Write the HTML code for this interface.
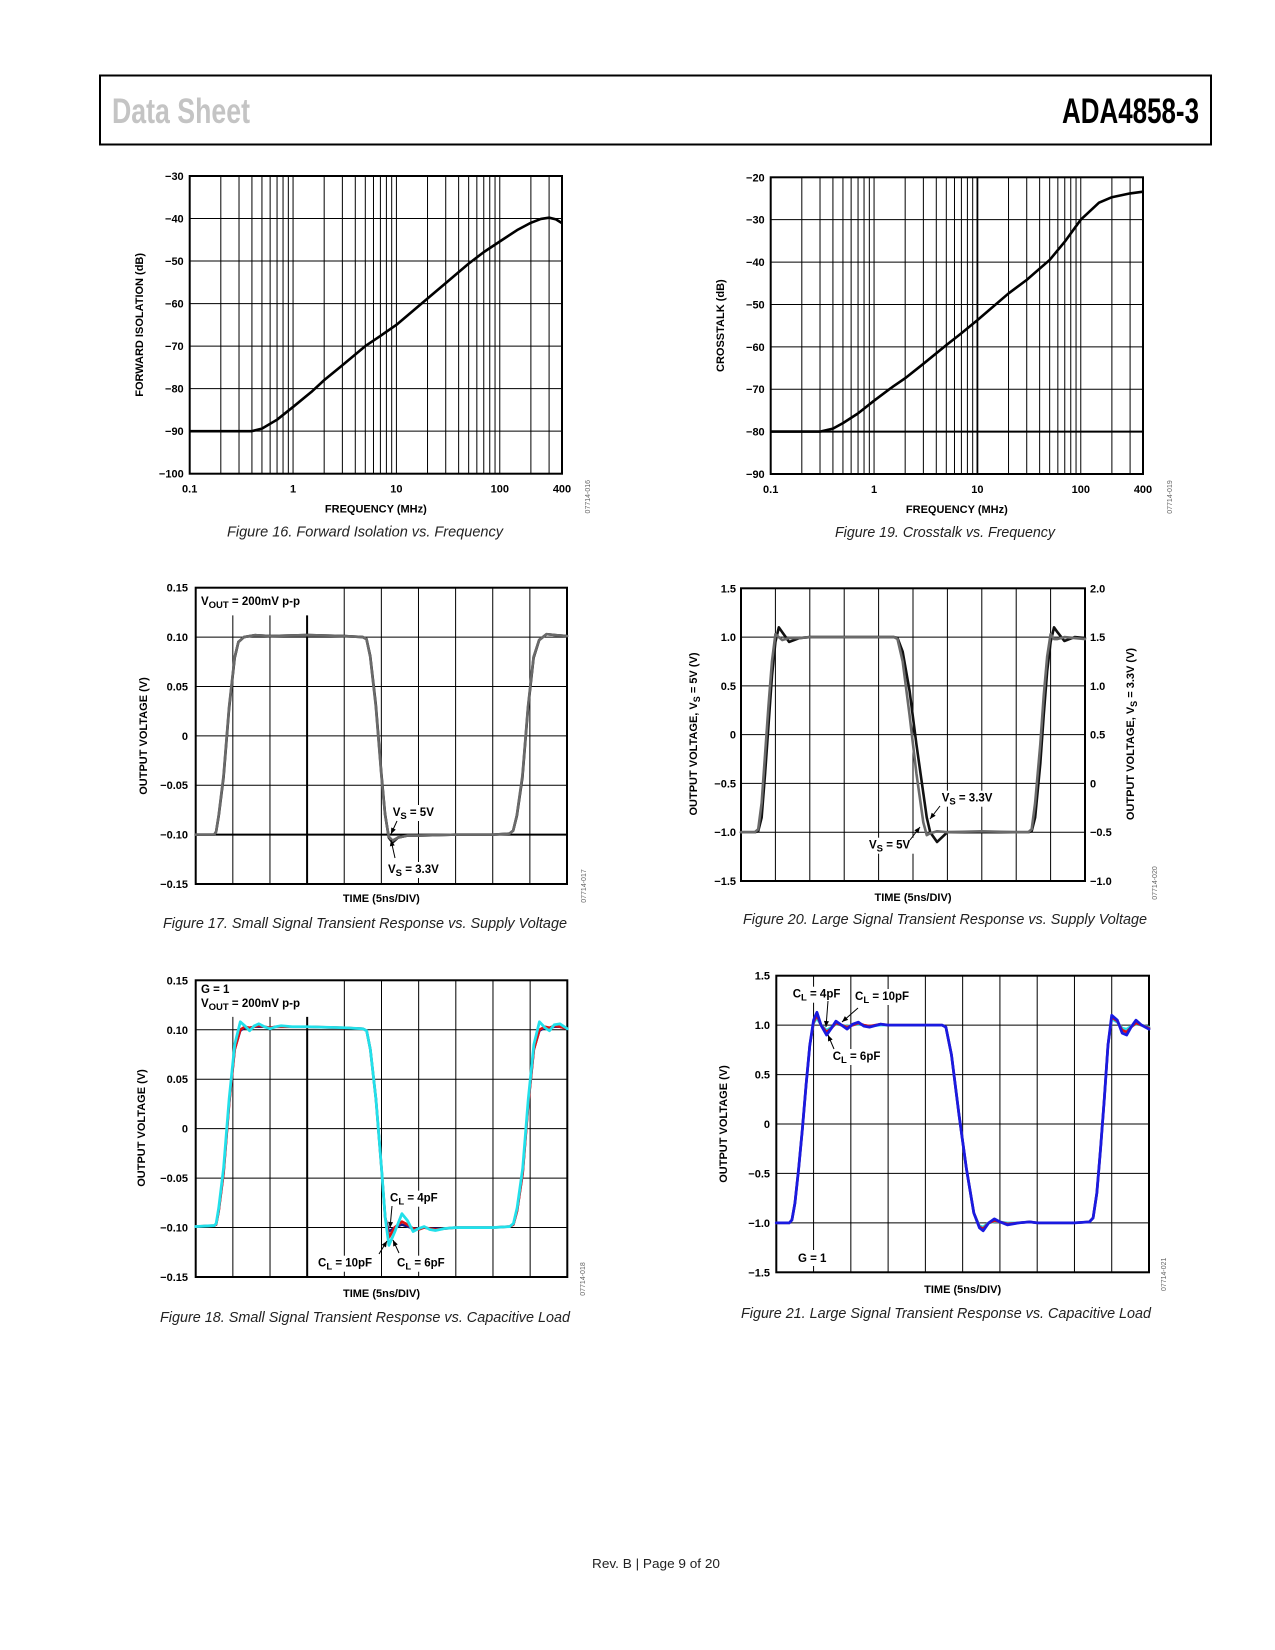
<!DOCTYPE html>
<html><head><meta charset="utf-8"><title>ADA4858-3 Data Sheet page 9</title>
<style>
html,body{margin:0;padding:0;background:#fff;}
svg{display:block;}
text{font-family:"Liberation Sans",Arial,sans-serif;}
</style></head>
<body>
<svg id="page" width="1275" height="1650" viewBox="0 0 1275 1650" xmlns="http://www.w3.org/2000/svg">
<rect x="100" y="75.5" width="1111" height="69" fill="none" stroke="#000" stroke-width="2"/>
<text x="112" y="123" font-family="'Liberation Sans Narrow','Liberation Sans',sans-serif" font-weight="bold" font-size="35" fill="#c4c4c4" textLength="138" lengthAdjust="spacingAndGlyphs">Data Sheet</text>
<text x="1062" y="123" font-family="'Liberation Sans Narrow','Liberation Sans',sans-serif" font-weight="bold" font-size="35" fill="#000" textLength="137" lengthAdjust="spacingAndGlyphs">ADA4858-3</text>
<text x="656" y="1568" text-anchor="middle" font-size="13" fill="#222" textLength="128" lengthAdjust="spacingAndGlyphs">Rev. B | Page 9 of 20</text>
</svg>
<script>
// ---------- Figure 16 data ----------
const fig16Freq = [0.1,0.2,0.3,0.4,0.5,0.7,1,1.5,2,3,5,7,10,20,30,50,70,100,150,200,250,300,350,400];
const fig16Iso  = [-90,-90,-90,-90,-89.4,-87.3,-84.3,-80.8,-78,-74.5,-70,-67.6,-65,-58.8,-55.2,-50.6,-47.9,-45.4,-42.6,-41,-40.1,-39.8,-40.2,-41.1];
const fig16YTicks = [-30,-40,-50,-60,-70,-80,-90,-100];
const fig16XTicks = [0.1,1,10,100,400];
// ---------- Figure 19 data ----------
const fig19Freq = [0.1,0.2,0.3,0.4,0.5,0.7,1,1.5,2,3,5,7,10,20,30,50,70,100,150,200,300,400];
const fig19Xtalk= [-80,-80,-80,-79.3,-78,-75.7,-72.7,-69.5,-67.4,-64,-59.6,-56.8,-53.7,-47.4,-44.2,-39.5,-35.2,-30,-26,-24.7,-23.8,-23.4];
const fig19YTicks = [-20,-30,-40,-50,-60,-70,-80,-90];
const fig19XTicks = [0.1,1,10,100,400];
// ---------- Figure 17 data ----------
const fig17Time = [0,0.5,0.55,0.62,0.75,0.9,1.05,1.15,1.3,1.6,2,3,4,4.5,4.6,4.7,4.85,5.0,5.1,5.2,5.3,5.45,5.7,6,7,8,8.45,8.55,8.65,8.8,8.95,9.1,9.25,9.45,9.7,10];
const fig17Vs33 = [-0.1,-0.1,-0.097,-0.081,-0.042,0.028,0.079,0.095,0.1,0.102,0.101,0.102,0.101,0.1,0.098,0.081,0.032,-0.038,-0.079,-0.103,-0.108,-0.103,-0.101,-0.101,-0.1,-0.1,-0.099,-0.096,-0.081,-0.042,0.028,0.079,0.097,0.103,0.102,0.101];
const fig17Vs5  = [-0.1,-0.1,-0.097,-0.08,-0.04,0.03,0.08,0.095,0.1,0.102,0.101,0.102,0.101,0.1,0.098,0.08,0.03,-0.04,-0.08,-0.102,-0.106,-0.103,-0.101,-0.101,-0.1,-0.1,-0.099,-0.096,-0.08,-0.04,0.03,0.08,0.097,0.103,0.102,0.101];
const fig17YTicks = [0.15,0.10,0.05,0,-0.05,-0.10,-0.15];
const fig17YLabels = ["0.15","0.10","0.05","0","\u22120.05","\u22120.10","\u22120.15"];
// ---------- Figure 20 data ----------
const fig20Time = [0,0.4,0.5,0.6,0.7,0.8,0.9,1.0,1.1,1.2,1.4,1.7,2,3,4,4.45,4.55,4.7,4.9,5.1,5.3,5.4,5.5,5.7,6,7,8,8.35,8.45,8.55,8.7,8.8,8.9,9.0,9.1,9.2,9.4,9.7,10];
const fig20Vs5  = [-1,-1,-0.97,-0.7,-0.2,0.3,0.75,1.03,1.0,0.97,0.99,0.99,1.0,1.0,1.0,1.0,0.98,0.75,0.2,-0.4,-0.9,-1.03,-1.01,-0.99,-1.0,-0.99,-1.0,-1.0,-0.97,-0.7,-0.1,0.4,0.8,1.03,0.98,0.98,1.0,0.99,0.98];
const fig20Vs33 = [-1,-1,-0.99,-0.85,-0.4,0.1,0.6,0.95,1.1,1.05,0.95,0.99,1.0,1.0,1.0,1.0,0.99,0.85,0.45,-0.1,-0.6,-0.85,-1.0,-1.1,-1.0,-1.0,-1.0,-1.0,-0.99,-0.85,-0.3,0.2,0.65,0.95,1.1,1.05,0.96,1.0,0.99];
const fig20YTicks = [1.5,1.0,0.5,0,-0.5,-1.0,-1.5];
const fig20YLabels = ["1.5","1.0","0.5","0","\u22120.5","\u22121.0","\u22121.5"];
const fig20RLabels = ["2.0","1.5","1.0","0.5","0","\u22120.5","\u22121.0"];
// ---------- Figure 18 data ----------
const fig18Time = [0,0.5,0.55,0.62,0.75,0.9,1.05,1.2,1.32,1.45,1.58,1.7,1.85,2.0,2.15,2.3,2.6,3,4,4.5,4.6,4.7,4.85,5.0,5.1,5.2,5.35,5.55,5.7,5.85,6.0,6.15,6.3,6.45,6.7,7,8,8.45,8.55,8.65,8.8,8.95,9.1,9.25,9.4,9.52,9.65,9.8,10];
const fig18Cl4  = [-0.099,-0.098,-0.097,-0.083,-0.045,0.025,0.08,0.099,0.102,0.102,0.103,0.103,0.103,0.102,0.103,0.103,0.103,0.103,0.102,0.101,0.099,0.08,0.03,-0.04,-0.09,-0.104,-0.1,-0.097,-0.099,-0.101,-0.101,-0.1,-0.101,-0.101,-0.101,-0.1,-0.1,-0.099,-0.097,-0.083,-0.045,0.025,0.08,0.099,0.102,0.102,0.103,0.103,0.101];
const fig18Cl6  = [-0.099,-0.098,-0.097,-0.083,-0.045,0.025,0.08,0.1,0.103,0.102,0.103,0.104,0.103,0.102,0.103,0.103,0.103,0.103,0.102,0.101,0.099,0.08,0.03,-0.04,-0.09,-0.11,-0.1,-0.094,-0.097,-0.101,-0.102,-0.1,-0.101,-0.102,-0.101,-0.1,-0.1,-0.099,-0.097,-0.083,-0.045,0.025,0.08,0.1,0.103,0.102,0.104,0.103,0.101];
const fig18Cl10 = [-0.099,-0.098,-0.096,-0.08,-0.04,0.03,0.085,0.108,0.104,0.099,0.104,0.106,0.103,0.101,0.103,0.104,0.103,0.103,0.102,0.101,0.099,0.08,0.03,-0.04,-0.09,-0.118,-0.105,-0.086,-0.093,-0.104,-0.101,-0.099,-0.102,-0.103,-0.101,-0.1,-0.1,-0.099,-0.096,-0.08,-0.04,0.03,0.085,0.108,0.102,0.099,0.105,0.106,0.101];
// ---------- Figure 21 data ----------
const fig21Time = [0,0.35,0.42,0.5,0.6,0.7,0.8,0.9,1.0,1.09,1.2,1.35,1.48,1.6,1.75,1.9,2.05,2.2,2.35,2.5,2.8,3,4,4.45,4.55,4.7,4.9,5.1,5.3,5.45,5.55,5.7,5.85,6.0,6.2,6.5,6.8,7,8,8.4,8.5,8.6,8.7,8.8,8.9,9.0,9.15,9.28,9.4,9.52,9.65,9.8,10];
const fig21Cl10 = [-1,-1,-0.97,-0.8,-0.45,-0.05,0.4,0.8,1.05,1.13,1.0,0.9,0.97,1.04,1.0,0.96,1.01,1.03,0.99,0.98,1.01,1.0,1.0,1.0,0.98,0.7,0.1,-0.45,-0.9,-1.05,-1.08,-1.0,-0.96,-0.99,-1.02,-1.0,-0.99,-1.0,-1.0,-0.99,-0.95,-0.7,-0.25,0.25,0.8,1.1,1.05,0.92,0.9,0.98,1.05,1.0,0.96];
const fig21Cl6  = [-1,-1,-0.97,-0.8,-0.45,-0.05,0.4,0.8,1.03,1.1,1.0,0.93,0.97,1.02,1.0,0.98,1.0,1.02,1.0,0.99,1.01,1.0,1.0,1.0,0.98,0.7,0.1,-0.45,-0.9,-1.04,-1.06,-1.0,-0.98,-0.99,-1.01,-1.0,-0.99,-1.0,-1.0,-0.99,-0.95,-0.7,-0.25,0.25,0.8,1.08,1.04,0.95,0.93,0.98,1.02,1.0,0.97];
const fig21Cl4  = [-1,-1,-0.97,-0.8,-0.45,-0.05,0.4,0.8,1.02,1.07,1.0,0.95,0.98,1.01,1.0,0.99,1.0,1.01,1.0,0.99,1.0,1.0,1.0,1.0,0.98,0.7,0.1,-0.45,-0.9,-1.03,-1.04,-1.0,-0.99,-0.99,-1.0,-1.0,-0.99,-1.0,-1.0,-0.99,-0.95,-0.7,-0.25,0.25,0.8,1.06,1.03,0.97,0.96,0.99,1.01,1.0,0.98];
const fig21YTicks = [1.5,1.0,0.5,0,-0.5,-1.0,-1.5];
const fig21YLabels = ["1.5","1.0","0.5","0","\u22120.5","\u22121.0","\u22121.5"];

const NS = "http://www.w3.org/2000/svg";
const svg = document.getElementById('page');
function el(tag, attrs, parent){
  const e = document.createElementNS(NS, tag);
  for (const k in attrs) e.setAttribute(k, attrs[k]);
  (parent||svg).appendChild(e);
  return e;
}
function txt(x,y,s,size,anchor,weight,parent){
  const t = el('text',{x:x,y:y,'font-size':size,'text-anchor':anchor||'start','font-weight':weight||'bold',fill:'#000'},parent);
  t.textContent = s;
  return t;
}
function linScale(d0,d1,r0,r1){ return v => r0 + (v-d0)/(d1-d0)*(r1-r0); }
function logScale(d0,d1,r0,r1){ return v => r0 + (Math.log10(v)-Math.log10(d0))/(Math.log10(d1)-Math.log10(d0))*(r1-r0); }
function pathFrom(xs,ys,sx,sy){
  let d='';
  for(let i=0;i<xs.length;i++){ d += (i?'L':'M') + sx(xs[i]).toFixed(2)+','+sy(ys[i]).toFixed(2); }
  return d;
}
function arrow(g,x1,y1,x2,y2){
  el('line',{x1:x1,y1:y1,x2:x2,y2:y2,stroke:'#000','stroke-width':1},g);
  const a=Math.atan2(y2-y1,x2-x1), L=6, W=2.5;
  const bx=x2-L*Math.cos(a), by=y2-L*Math.sin(a);
  const p=[[x2,y2],[bx+W*Math.sin(a),by-W*Math.cos(a)],[bx-W*Math.sin(a),by+W*Math.cos(a)]];
  el('polygon',{points:p.map(q=>q.join(',')).join(' '),fill:'#000'},g);
}
function subLabel(g,x,y,main,sub,rest,bg){
  if(bg){ el('rect',{x:x-2,y:y-11,width:bg,height:16,fill:'#fff'},g); }
  const t = el('text',{x:x,y:y,'font-size':11.5,'font-weight':'bold',fill:'#000'},g);
  const a = el('tspan',{},t); a.textContent = main;
  const b = el('tspan',{dy:3,'font-size':9.5},t); b.textContent = sub;
  const c = el('tspan',{dy:-3},t); c.textContent = rest;
  return t;
}
function rotText(g,x,y,s,size,weight,fill){
  const t = el('text',{x:x,y:y,'font-size':size,'font-weight':weight||'bold','text-anchor':'middle',fill:fill||'#000',transform:'rotate(-90 '+x+' '+y+')'},g);
  t.textContent = s; return t;
}
function caption(g,cx,y,s,len){
  const t = el('text',{x:cx,y:y,'font-size':14.5,'font-style':'italic','text-anchor':'middle',fill:'#222',textLength:len,lengthAdjust:'spacingAndGlyphs'},g);
  t.textContent = s; return t;
}

function freqChart(name,F,freq,vals,yTicks,xTicks,yMin,yMax,title,cap,capCx,capLen,docId,docX,thickY){
  const g = el('g',{});
  
  
  const sx = logScale(0.1,400,F.x0,F.x1), sy = linScale(yMin,yMax,F.y1,F.y0);
  const grid = el('g',{},g);
  
  
  for(let dec=0.1; dec<400; dec*=10){
    for(let m=1;m<=9;m++){
      const f=dec*m; if(f<=0.1001||f>=399) continue;
      el('line',{x1:sx(f),x2:sx(f),y1:F.y0,y2:F.y1,stroke:'#000','stroke-width':(thickY&&Math.abs(f-10)<0.01)?1.8:1},grid);
    }
  }
  for(let v=yMin+10; v<yMax; v+=10){
    el('line',{x1:F.x0,x2:F.x1,y1:sy(v),y2:sy(v),stroke:'#000','stroke-width':(thickY&&v===-80)?2:1},grid);
  }
  const fr = el('rect',{x:F.x0,y:F.y0,width:F.x1-F.x0,height:F.y1-F.y0,fill:'none',stroke:'#000','stroke-width':2},g);
  
  
  const line = el('path',{d:pathFrom(freq,vals,sx,sy),fill:'none',stroke:'#000','stroke-width':2.6,'stroke-linejoin':'round'},g);
  
  
  yTicks.forEach(v=>{
    const t = txt(F.x0-6, sy(v)+4, String(v).replace('-','\u2212'), 11,'end','bold',g);
    
    
  });
  xTicks.forEach(v=>{
    const t = txt(sx(v), F.y1+19, String(v), 11,'middle','bold',g);
    
    
  });
  const xt = txt((F.x0+F.x1)/2, F.y1+39, 'FREQUENCY (MHz)', 11,'middle','bold',g);
  
  
  const yt = rotText(g, F.tx, (F.y0+F.y1)/2, title, 11);
  
  
  const c = caption(g, capCx, F.y1+63, cap, capLen);
  
  
  const d = rotText(g, docX, F.y1+23, docId, 7,'normal','#666');
  
  
}
freqChart('fig16-forward-isolation',{x0:189.7,x1:562,y0:176,y1:473.7,tx:143},fig16Freq,fig16Iso,fig16YTicks,fig16XTicks,-100,-30,'FORWARD ISOLATION (dB)','Figure 16. Forward Isolation vs. Frequency',365,276,'07714-016',590,false);
freqChart('fig19-crosstalk',{x0:770.7,x1:1143,y0:177.3,y1:474,tx:724},fig19Freq,fig19Xtalk,fig19YTicks,fig19XTicks,-90,-20,'CROSSTALK (dB)','Figure 19. Crosstalk vs. Frequency',945,220,'07714-019',1172,true);

function transChart(name,F,yMin,yMax,yTicks,yLabels,cap,capCx,capLen,docId,docX,opts){
  const g = el('g',{});
  
  
  const sx = linScale(0,10,F.x0,F.x1), sy = linScale(yMin,yMax,F.y1,F.y0);
  const grid = el('g',{},g);
  
  
  for(let i=1;i<10;i++){
    let ytop = F.y0;
    if(opts.shortTop && i<=3) ytop = sy(opts.shortTop);
    el('line',{x1:sx(i),x2:sx(i),y1:ytop,y2:F.y1,stroke:'#000','stroke-width':(opts.thickX===i)?2:1},grid);
  }
  for(let j=1;j<yTicks.length-1;j++){
    const v=yTicks[j];
    el('line',{x1:F.x0,x2:F.x1,y1:sy(v),y2:sy(v),stroke:'#000','stroke-width':(opts.thickY===v)?2:1},grid);
  }
  const fr = el('rect',{x:F.x0,y:F.y0,width:F.x1-F.x0,height:F.y1-F.y0,fill:'none',stroke:'#000','stroke-width':2},g);
  
  
  yTicks.forEach((v,k)=>{
    const t = txt(F.lx, sy(v)+4, yLabels[k], 11,'end','bold',g);
    
    
  });
  if(opts.rLabels){
    opts.rLabels.forEach((s,k)=>{
      const t = txt(F.x1+5, sy(yTicks[k])+4, s, 11,'start','bold',g);
      
      
    });
  }
  const xt = txt((F.x0+F.x1)/2, F.tb, 'TIME (5ns/DIV)', 11,'middle','bold',g);
  
  
  const c = caption(g, capCx, F.cb, cap, capLen);
  
  
  const d = rotText(g, docX, F.y1+2, docId, 7,'normal','#666');
  
  
  return {g:g,sx:sx,sy:sy};
}
function trace(c,name,ts,vs,color,w){
  const p = el('path',{d:pathFrom(ts,vs,c.sx,c.sy),fill:'none',stroke:color,'stroke-width':w,'stroke-linejoin':'round','stroke-linecap':'round'},c.g);
  
  
  return p;
}
function ytitle(c,x,y,main,sub,rest){
  const t = el('text',{x:x,y:y,'font-size':11,'font-weight':'bold','text-anchor':'middle',transform:'rotate(-90 '+x+' '+y+')'},c.g);
  const a=el('tspan',{},t); a.textContent=main;
  if(sub){ const b=el('tspan',{dy:3,'font-size':9},t); b.textContent=sub; const r=el('tspan',{dy:-3},t); r.textContent=rest; }
  return t;
}

// Figure 17
const c17 = transChart('fig17-small-signal-supply',{x0:195.7,x1:567,y0:587.7,y1:884,lx:188,tb:902,cb:928},-0.15,0.15,fig17YTicks,fig17YLabels,'Figure 17. Small Signal Transient Response vs. Supply Voltage',365,404,'07714-017',586,{shortTop:0.122,thickX:3,thickY:-0.10});
trace(c17,'fig17-trace-vs-3v3',fig17Time,fig17Vs33,'#111',2.6);
trace(c17,'fig17-trace-vs-5v',fig17Time,fig17Vs5,'#6a6a6a',2.6);
{
  const t1=subLabel(c17.g,201,605,'V','OUT',' = 200mV p-p');
   
  const t2=subLabel(c17.g,392.7,816,'V','S',' = 5V',48);
   
  const t3=subLabel(c17.g,388,873,'V','S',' = 3.3V',58);
   
  arrow(c17.g,397,821,391,834);
  arrow(c17.g,395,858,391,840);
  const yt=ytitle(c17,147,736,'OUTPUT VOLTAGE (V)');
   
}

// Figure 20
const c20 = transChart('fig20-large-signal-supply',{x0:741,x1:1085,y0:588.3,y1:881,lx:736,tb:901,cb:924},-1.5,1.5,fig20YTicks,fig20YLabels,'Figure 20. Large Signal Transient Response vs. Supply Voltage',945,404,'07714-020',1157,{rLabels:fig20RLabels});
{
  const b1=subLabel(c20.g,941.7,801.7,'V','S',' = 3.3V',58);
   
  const b2=subLabel(c20.g,869,848.7,'V','S',' = 5V',48);
   
}
trace(c20,'fig20-trace-vs-3v3',fig20Time,fig20Vs33,'#111',2.6);
trace(c20,'fig20-trace-vs-5v',fig20Time,fig20Vs5,'#6a6a6a',2.6);
{
  arrow(c20.g,940,806,930,819);
  arrow(c20.g,910,840,920,827);
  const y1=ytitle(c20,697,734,'OUTPUT VOLTAGE, V','S',' = 5V (V)');
   
  const y2=ytitle(c20,1134,734,'OUTPUT VOLTAGE, V','S',' = 3.3V (V)');
   
}

// Figure 18
const c18 = transChart('fig18-small-signal-capload',{x0:195.7,x1:567.3,y0:980.3,y1:1277,lx:188,tb:1297,cb:1322},-0.15,0.15,fig17YTicks,fig17YLabels,'Figure 18. Small Signal Transient Response vs. Capacitive Load',365,410,'07714-018',585,{shortTop:0.113,thickX:3});
{
  const l1=subLabel(c18.g,390,1201.7,'C','L',' = 4pF',56);
   
  const l2=subLabel(c18.g,318,1266.7,'C','L',' = 10pF',64);
   
  const l3=subLabel(c18.g,397,1266.7,'C','L',' = 6pF',56);
   
}
trace(c18,'fig18-trace-cl4',fig18Time,fig18Cl4,'#1a1a8c',2.4);
trace(c18,'fig18-trace-cl6',fig18Time,fig18Cl6,'#e01010',2.6);
trace(c18,'fig18-trace-cl10',fig18Time,fig18Cl10,'#22e0ea',2.8);
{
  const g1=txt(201,993,'G = 1',11.5,'start','bold',c18.g);
   
  const v1=subLabel(c18.g,201,1007,'V','OUT',' = 200mV p-p');
   
  arrow(c18.g,392,1206,390,1228);
  arrow(c18.g,379,1254,387,1241);
  arrow(c18.g,399,1253,393,1240);
  const yt=ytitle(c18,145,1128,'OUTPUT VOLTAGE (V)');
   
}

// Figure 21
const c21 = transChart('fig21-large-signal-capload',{x0:776.3,x1:1149,y0:975.7,y1:1272.3,lx:770,tb:1293,cb:1318},-1.5,1.5,fig21YTicks,fig21YLabels,'Figure 21. Large Signal Transient Response vs. Capacitive Load',946,410,'07714-021',1166,{});
{
  const l1=subLabel(c21.g,792.7,997.7,'C','L',' = 4pF',56);
   
  const l2=subLabel(c21.g,855,1000,'C','L',' = 10pF',64);
   
  const l3=subLabel(c21.g,832.7,1060,'C','L',' = 6pF',56);
   
  el('rect',{x:794,y:1250,width:44,height:16,fill:'#fff'},c21.g);
  const g1=txt(798,1262,'G = 1',11.5,'start','bold',c21.g);
   
}
trace(c21,'fig21-trace-cl4',fig21Time,fig21Cl4,'#22e0ea',2.6);
trace(c21,'fig21-trace-cl6',fig21Time,fig21Cl6,'#e01010',2.6);
trace(c21,'fig21-trace-cl10',fig21Time,fig21Cl10,'#1a1ae0',2.8);
{
  arrow(c21.g,828,1001,826,1027);
  arrow(c21.g,858,1008,842,1022);
  arrow(c21.g,834,1049,828,1035);
  const yt=ytitle(c21,727,1124,'OUTPUT VOLTAGE (V)');
   
}
</script>
</body></html>
